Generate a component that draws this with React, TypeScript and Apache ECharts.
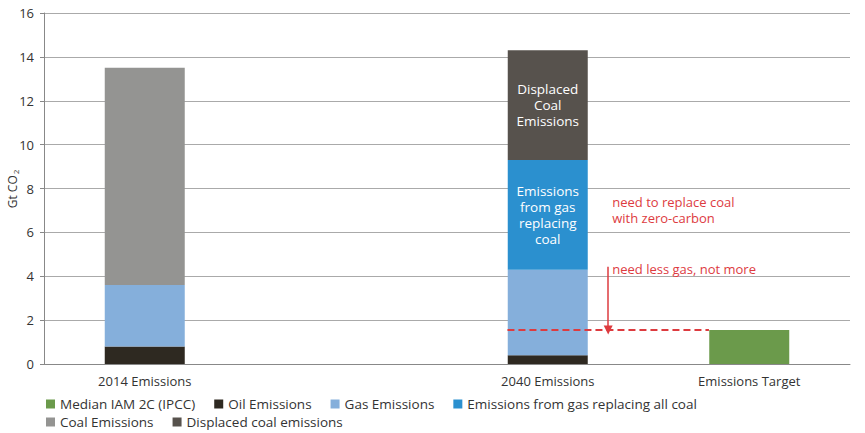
import { useEffect, useRef } from 'react';
import * as echarts from 'echarts';

const CATEGORIES = ['2014 Emissions', '', '2040 Emissions', 'Emissions Target'];

const MEDIAN_IAM = [0, 0, 0, 1.55];
const OIL = [0.8, 0, 0.4, 0];
const GAS = [2.8, 0, 3.9, 0];
const GAS_REPLACING_COAL = [0, 0, 5.0, 0];
const COAL = [9.9, 0, 0, 0];
const DISPLACED_COAL = [0, 0, 5.0, 0];

const Y_TICKS = { min: 0, max: 16, interval: 2 };

// annotation points on the hidden value axis (0..4 spans the four category slots)
const TARGET_LINE = [[2.3, 1.55], [3.3, 1.55]];
const ARROW = [[2.8, 4.43], [2.8, 1.55]];
const NOTES = [
  { value: [2.82, 7.02], text: 'need to replace coal\nwith zero-carbon' },
  { value: [2.82, 4.33], text: 'need less gas, not more' },
];

const RED = '#dd3b3f';
const FONT = '"Open Sans", sans-serif';

export default function App() {
  const chartRef = useRef<HTMLDivElement>(null);

  useEffect(() => {
    document.body.style.margin = '0';
    if (!chartRef.current) return;
    const chart = echarts.init(chartRef.current, null, { renderer: 'svg' });

    const segLabel = (text: string) => ({
      show: true,
      position: 'inside',
      color: '#fff',
      fontSize: 13.5,
      lineHeight: 16,
      fontFamily: FONT,
      formatter: (p: any) => (p.value ? text : ''),
    });

    const bar = (name: string, data: number[], color: string, extra: any = {}) => ({
      name,
      type: 'bar',
      stack: 'total',
      barWidth: 80,
      data,
      itemStyle: { color },
      ...extra,
    });

    const legendBase = {
      left: 44,
      itemWidth: 9,
      itemHeight: 9,
      itemGap: 19,
      icon: 'rect',
      padding: 2,
      textStyle: { fontSize: 13.5, color: '#333', fontFamily: FONT },
    };

    const option: any = {
      animation: false,
      textStyle: { fontFamily: FONT },
      grid: { left: 44, right: 15, top: 13, bottom: 69, outerBoundsMode: 'none' },
      // y axis title with subscript 2
      graphic: [
        {
          type: 'text',
          x: 12,
          y: 189,
          rotation: Math.PI / 2,
          style: {
            text: '{a|Gt CO}{b|2}',
            align: 'center',
            verticalAlign: 'middle',
            rich: {
              a: { fontSize: 12, fill: '#333', fontFamily: FONT },
              b: { fontSize: 8, fill: '#333', fontFamily: FONT, verticalAlign: 'bottom', padding: [6, 0, 0, 1] },
            },
          },
        },
      ],
      legend: [
        {
          ...legendBase,
          top: 395,
          data: ['Median IAM 2C (IPCC)', 'Oil Emissions', 'Gas Emissions', 'Emissions from gas replacing all coal'],
        },
        {
          ...legendBase,
          top: 413,
          data: ['Coal Emissions', 'Displaced coal emissions'],
        },
      ],
      xAxis: [
        {
          type: 'category',
          data: CATEGORIES,
          axisLine: { lineStyle: { color: '#888' } },
          axisTick: { show: false },
          axisLabel: { fontSize: 13, color: '#333', margin: 10 },
        },
        {
          type: 'value',
          min: 0,
          max: 4,
          show: false,
        },
      ],
      yAxis: {
        type: 'value',
        ...Y_TICKS,
        axisLine: { show: true, lineStyle: { color: '#888' } },
        axisTick: { show: true, length: 4, lineStyle: { color: '#888' } },
        axisLabel: { fontSize: 13, color: '#333', margin: 10 },
        splitLine: { lineStyle: { color: '#aaa' } },
      },
      series: [
        bar('Median IAM 2C (IPCC)', MEDIAN_IAM, '#6b9a4b'),
        bar('Oil Emissions', OIL, '#2e2921'),
        bar('Gas Emissions', GAS, '#85afdb'),
        bar('Emissions from gas replacing all coal', GAS_REPLACING_COAL, '#2b90cf', {
          label: segLabel('Emissions\nfrom gas\nreplacing\ncoal'),
        }),
        bar('Coal Emissions', COAL, '#949492'),
        bar('Displaced coal emissions', DISPLACED_COAL, '#57524d', {
          label: segLabel('Displaced\nCoal\nEmissions'),
        }),
        {
          name: 'target line',
          type: 'line',
          xAxisIndex: 1,
          data: TARGET_LINE,
          symbol: 'none',
          z: 5,
          lineStyle: { color: RED, width: 2, type: [7, 4] },
        },
        {
          name: 'arrow',
          type: 'line',
          xAxisIndex: 1,
          data: [],
          z: 5,
          markLine: {
            silent: true,
            symbol: ['none', 'triangle'],
            symbolSize: [9, 9],
            label: { show: false },
            lineStyle: { color: RED, width: 1.5, type: 'solid' },
            data: [[{ coord: ARROW[0] }, { coord: ARROW[1] }]],
          },
        },
        {
          name: 'notes',
          type: 'scatter',
          xAxisIndex: 1,
          symbolSize: 0,
          z: 5,
          itemStyle: { opacity: 1 },
          data: NOTES.map((n) => ({ value: n.value, text: n.text })),
          label: {
            show: true,
            position: 'right',
            distance: 0,
            align: 'left',
            color: RED,
            fontSize: 13,
            lineHeight: 16,
            fontFamily: FONT,
            formatter: (p: any) => p.data.text,
          },
        },
      ],
    };

    chart.setOption(option);
    return () => chart.dispose();
  }, []);

  return <div ref={chartRef} style={{ width: 865, height: 433 }} />;
}
